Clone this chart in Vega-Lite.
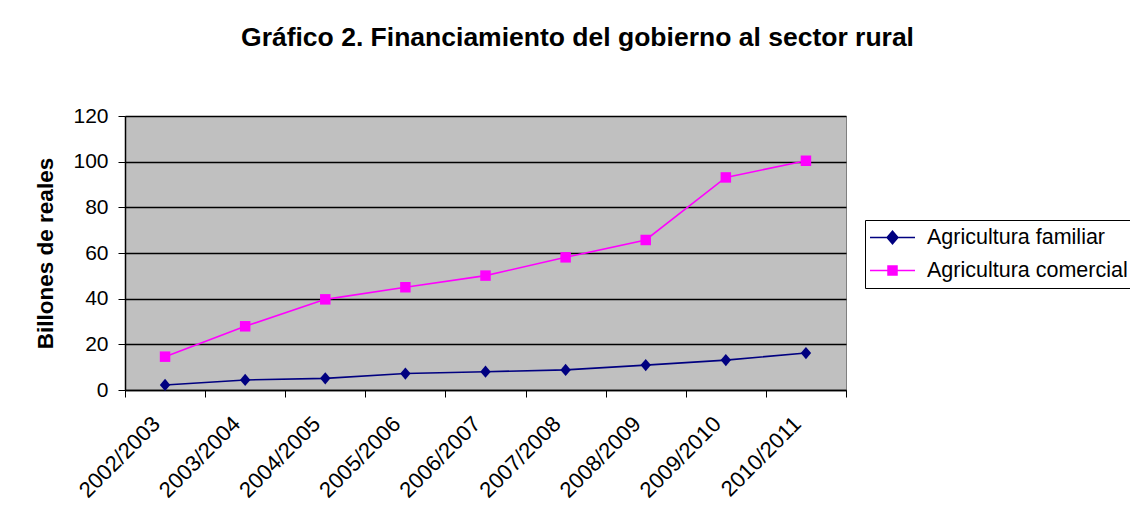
{
  "$schema": "https://vega.github.io/schema/vega-lite/v6.json",
  "autosize": "none",
  "width": 721,
  "height": 274,
  "padding": {"left": 125, "top": 116, "right": 284, "bottom": 126},
  "background": "white",
  "title": {
    "text": "Gráfico 2. Financiamiento del gobierno al sector rural",
    "font": "Liberation Sans",
    "fontSize": 26.5,
    "fontWeight": "bold",
    "color": "black",
    "anchor": "middle",
    "frame": "group",
    "dx": 92,
    "baseline": "alphabetic",
    "offset": 33
  },
  "config": {
    "view": {"fill": "#C0C0C0", "stroke": "#808080", "strokeWidth": 1},
    "font": "Liberation Sans"
  },
  "data": {
    "values": [
      {"periodo": "2002/2003", "serie": "Agricultura familiar", "valor": 2.2},
      {"periodo": "2003/2004", "serie": "Agricultura familiar", "valor": 4.4},
      {"periodo": "2004/2005", "serie": "Agricultura familiar", "valor": 5.1},
      {"periodo": "2005/2006", "serie": "Agricultura familiar", "valor": 7.2},
      {"periodo": "2006/2007", "serie": "Agricultura familiar", "valor": 8.0},
      {"periodo": "2007/2008", "serie": "Agricultura familiar", "valor": 8.8},
      {"periodo": "2008/2009", "serie": "Agricultura familiar", "valor": 10.9},
      {"periodo": "2009/2010", "serie": "Agricultura familiar", "valor": 13.1},
      {"periodo": "2010/2011", "serie": "Agricultura familiar", "valor": 16.2},
      {"periodo": "2002/2003", "serie": "Agricultura comercial", "valor": 14.6},
      {"periodo": "2003/2004", "serie": "Agricultura comercial", "valor": 27.9},
      {"periodo": "2004/2005", "serie": "Agricultura comercial", "valor": 39.7},
      {"periodo": "2005/2006", "serie": "Agricultura comercial", "valor": 45.0},
      {"periodo": "2006/2007", "serie": "Agricultura comercial", "valor": 50.1},
      {"periodo": "2007/2008", "serie": "Agricultura comercial", "valor": 58.1},
      {"periodo": "2008/2009", "serie": "Agricultura comercial", "valor": 65.7},
      {"periodo": "2009/2010", "serie": "Agricultura comercial", "valor": 93.1},
      {"periodo": "2010/2011", "serie": "Agricultura comercial", "valor": 100.4}
    ]
  },
  "encoding": {
    "x": {
      "field": "periodo",
      "type": "ordinal",
      "sort": null,
      "scale": {"type": "band", "paddingInner": 0, "paddingOuter": 0},
      "axis": {
        "title": null,
        "tickBand": "extent",
        "labelAngle": -45,
        "labelAlign": "right",
        "labelBaseline": "middle",
        "labelFont": "Liberation Sans",
        "labelFontSize": 22,
        "labelColor": "black",
        "labelPadding": 23,
        "labelOffset": -9,
        "tickSize": 7,
        "tickColor": "black",
        "domainColor": "black",
        "domainWidth": 1.5,
        "grid": false
      }
    },
    "y": {
      "field": "valor",
      "type": "quantitative",
      "scale": {"domain": [0, 120], "nice": false},
      "axis": {
        "title": "Billones de reales",
        "titleFont": "Liberation Sans",
        "titleFontSize": 22.5,
        "titleFontWeight": "bold",
        "titleColor": "black",
        "titlePadding": 15,
        "values": [0, 20, 40, 60, 80, 100, 120],
        "labelFont": "Liberation Sans",
        "labelFontSize": 21,
        "labelColor": "black",
        "labelPadding": 10,
        "tickSize": 7,
        "tickColor": "black",
        "domainColor": "black",
        "domainWidth": 1.5,
        "grid": true,
        "gridColor": "black",
        "gridWidth": 1.5
      }
    }
  },
  "layer": [
    {
      "mark": {"type": "line", "strokeWidth": 1.6},
      "encoding": {
        "color": {
          "field": "serie",
          "type": "nominal",
          "scale": {
            "domain": ["Agricultura familiar", "Agricultura comercial"],
            "range": ["#000080", "#FF00FF"]
          },
          "legend": {
            "orient": "none",
            "legendX": 740,
            "legendY": 104,
            "title": null,
            "labelFont": "Liberation Sans",
            "labelFontSize": 21.5,
            "labelColor": "black",
            "labelOffset": 11,
            "labelLimit": 400,
            "symbolSize": 2025,
            "symbolStrokeWidth": 1.5,
            "strokeColor": "black",
            "fillColor": "white",
            "padding": 4,
            "rowPadding": 6,
            "clipHeight": 27,
            "encode": {
              "symbols": {
                "update": {
                  "shape": {"signal": "datum.value === 'Agricultura familiar' ? 'M-1,0H1M-0.24,0L0,-0.28L0.24,0L0,0.28Z' : 'M-1,0H1M-0.2,-0.2H0.2V0.2H-0.2Z'"},
                  "fill": {"signal": "scale('color', datum.value)"},
                  "stroke": {"signal": "scale('color', datum.value)"},
                  "opacity": {"value": 1},
                  "fillOpacity": {"value": 1}
                }
              }
            }
          }
        }
      }
    },
    {
      "transform": [{"filter": "datum.serie === 'Agricultura familiar'"}],
      "mark": {"type": "point", "filled": true, "opacity": 1, "shape": "M-0.85,0L0,-1L0.85,0L0,1Z", "color": "#000080", "size": 150}
    },
    {
      "transform": [{"filter": "datum.serie === 'Agricultura comercial'"}],
      "mark": {"type": "point", "filled": true, "opacity": 1, "shape": "square", "color": "#FF00FF", "size": 110}
    }
  ]
}
